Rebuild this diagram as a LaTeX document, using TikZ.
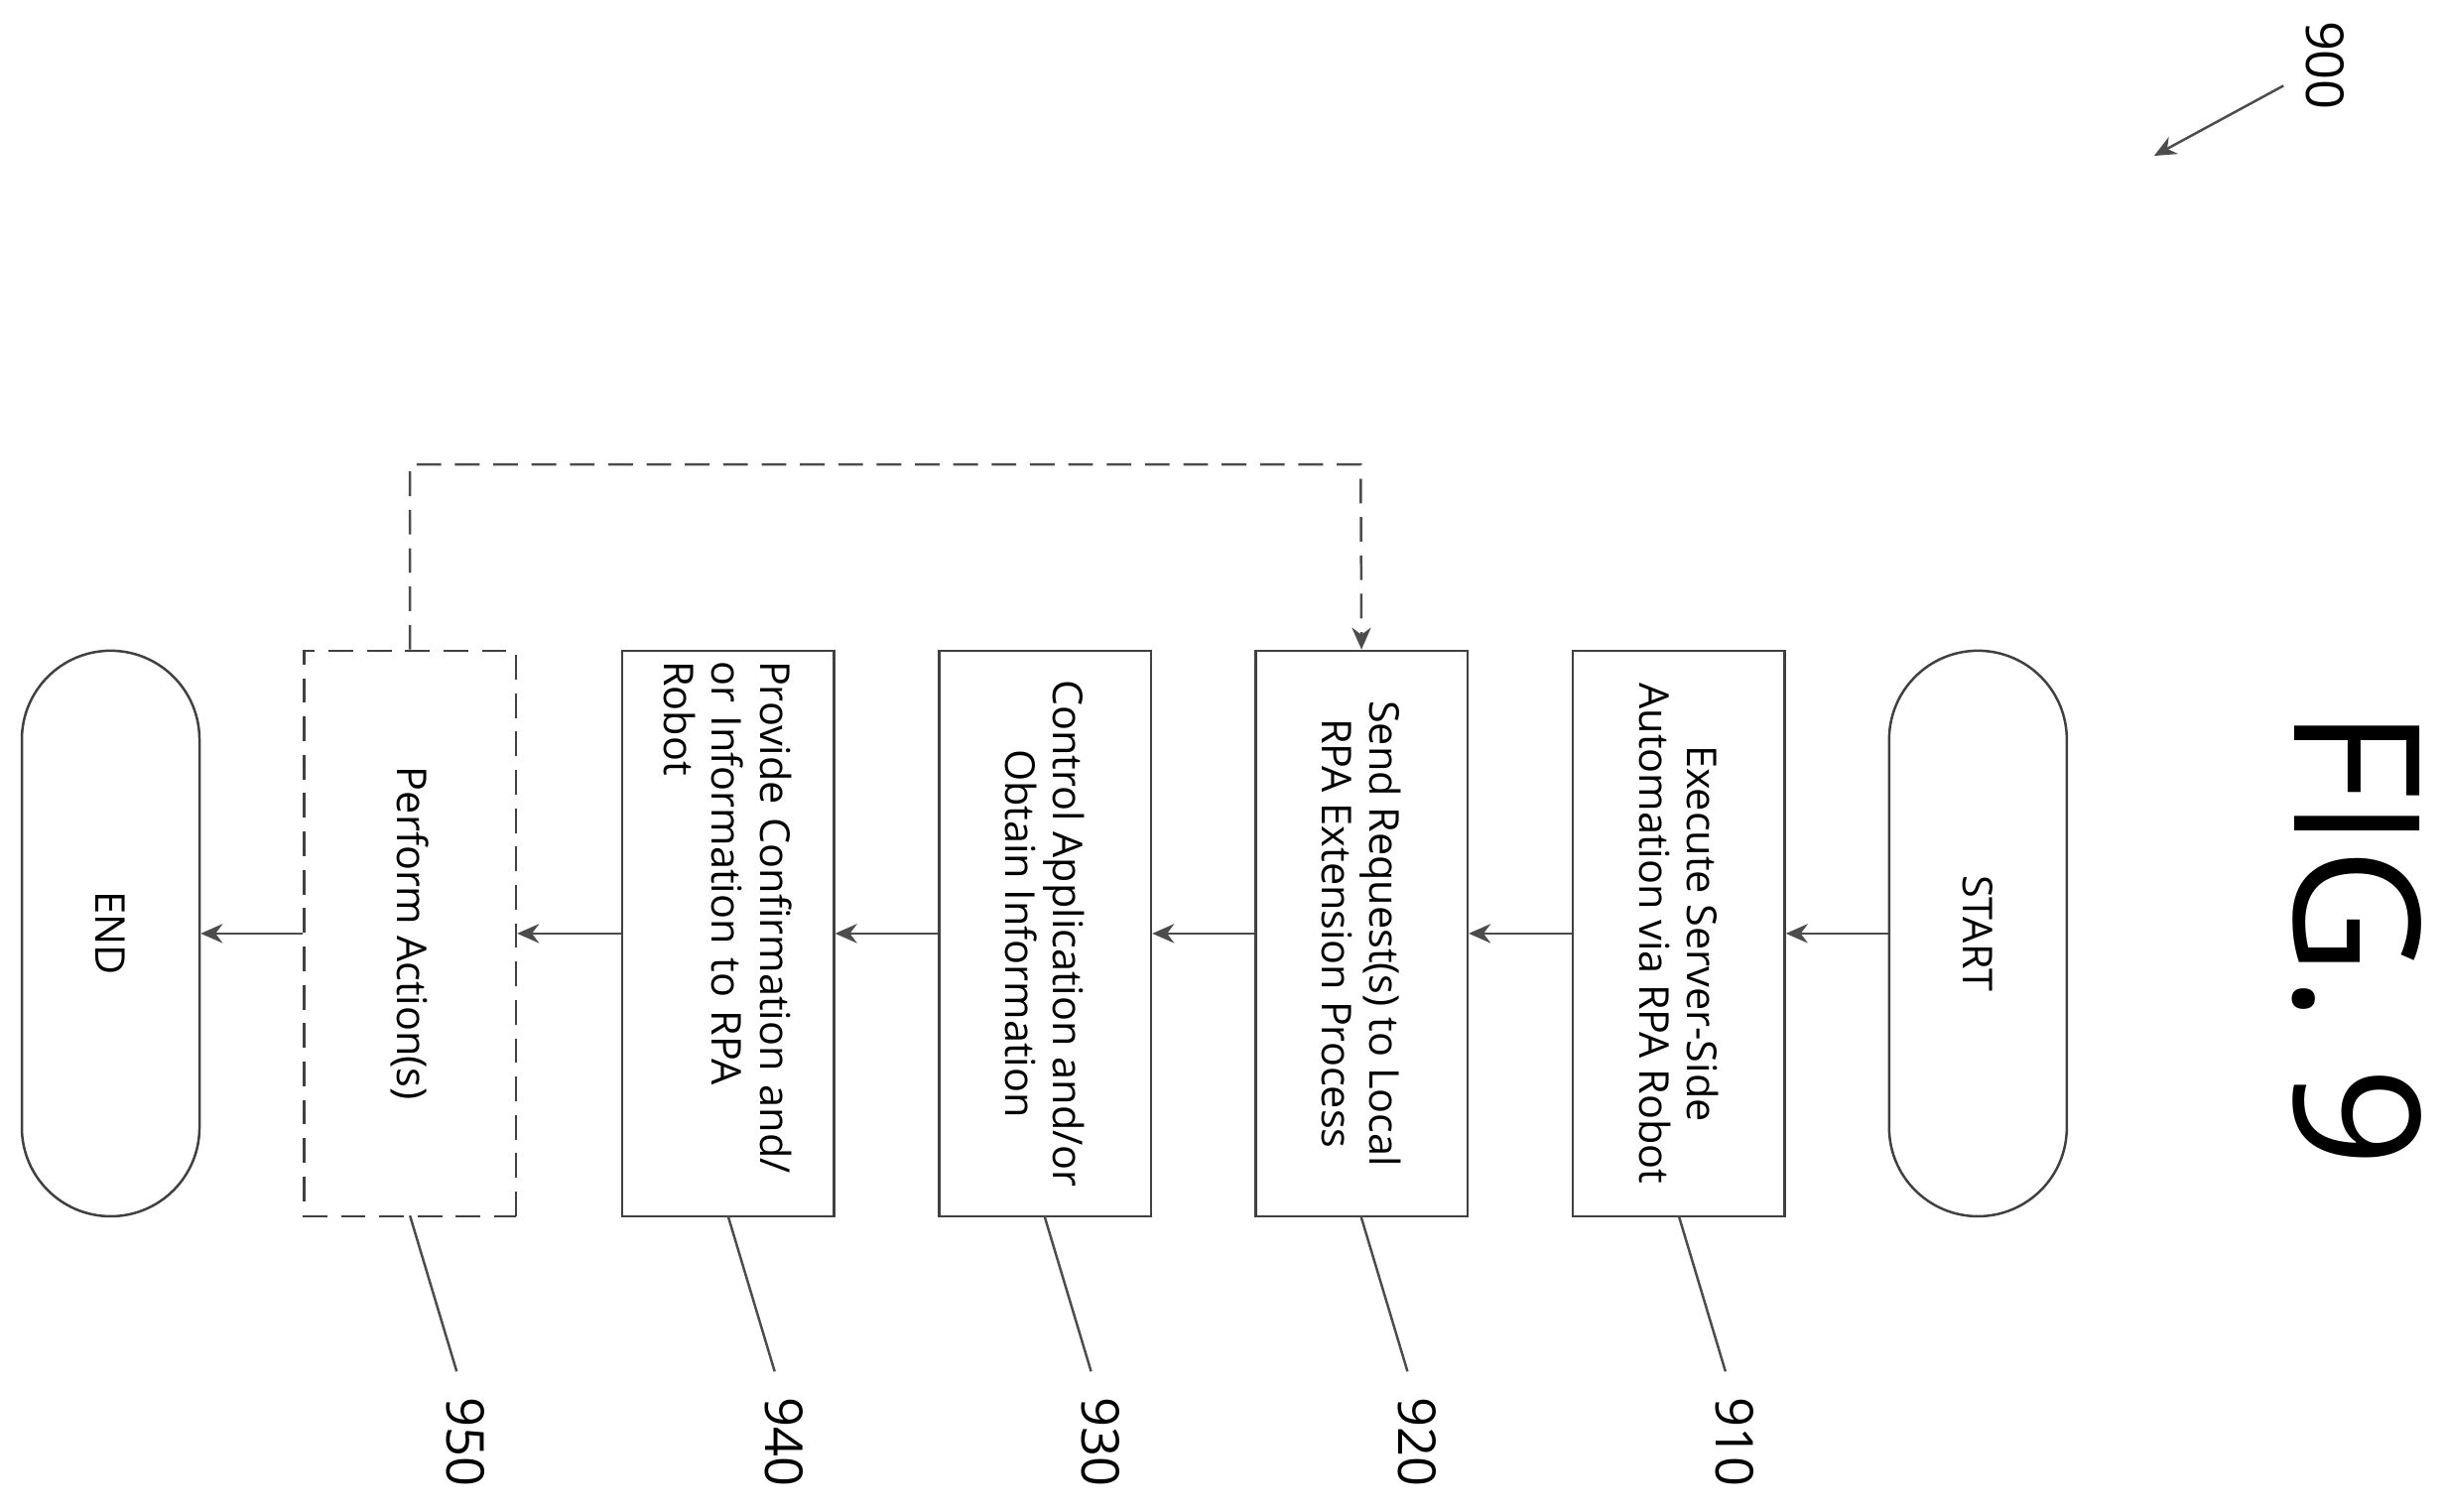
\documentclass[tikz,border=0pt]{standalone}
\usepackage{fontspec}
\setmainfont{Open Sans}
\usetikzlibrary{arrows.meta}
\begin{document}
\begin{tikzpicture}[x=0.02cm,y=-0.02cm,
  box/.style={draw=black!75,line width=0.9pt,rotate=-90,minimum width=7.26cm,minimum height=2.72cm,font=\fontsize{15}{17.5}\selectfont,inner sep=0pt},
  pill/.style={box,minimum height=2.28cm,rounded corners=1.14cm},
  arr/.style={draw=black!70,line width=0.9pt,-{Stealth[length=8pt,width=7pt]}},
  lead/.style={draw=black!70,line width=0.9pt},
  num/.style={rotate=-90,font=\fontsize{19}{19}\selectfont}]
\useasboundingbox (0,0) rectangle (1568,970);
\node[pill] (start) at (1269,599) {START};
\node[box,align=center] (b910) at (1077,599) {Execute Server-Side\\Automation via RPA Robot};
\node[box,align=center] (b920) at (873.5,599) {Send Request(s) to Local\\RPA Extension Process};
\node[box,align=center] (b930) at (670.5,599) {Control Application and/or\\Obtain Information};
\node[box,align=left,text width=7.0cm] (b940) at (467,599) {Provide Confirmation and/\\or Information to RPA\\Robot};
\node[box,dashed,dash pattern=on 9pt off 5pt] (b950) at (263,599) {Perform Action(s)};
\node[pill] (end) at (71,599) {END};
\draw[arr] (start.south) -- (b910.north);
\draw[arr] (b910.south) -- (b920.north);
\draw[arr] (b920.south) -- (b930.north);
\draw[arr] (b930.south) -- (b940.north);
\draw[arr] (b940.south) -- (b950.north);
\draw[arr] (b950.south) -- (end.north);
\coordinate (c1) at (263,298);
\coordinate (c2) at (873,298);
\draw[arr,dash pattern=on 9pt off 5pt] (b950.west) -- (c1) -- (c2) -- (b920.west);
\foreach \n/\x in {910/1077,920/873,930/670,940/467,950/263}{
  \coordinate (l\n) at (\x,780);
  \coordinate (e\n) at (\x+30,880);
  \draw[lead] (l\n) -- (e\n);
  \node[num] (t\n) at (\x+36,925) {\n};
}
\node[rotate=-90,font=\fontsize{64}{64}\selectfont] (fig) at (1512,602) {FIG. 9};
\node[num] (t900) at (1492,42) {900};
\coordinate (a900) at (1465,55);
\coordinate (h900) at (1382,100);
\draw[arr] (a900) -- (h900);
\end{tikzpicture}
\end{document}
